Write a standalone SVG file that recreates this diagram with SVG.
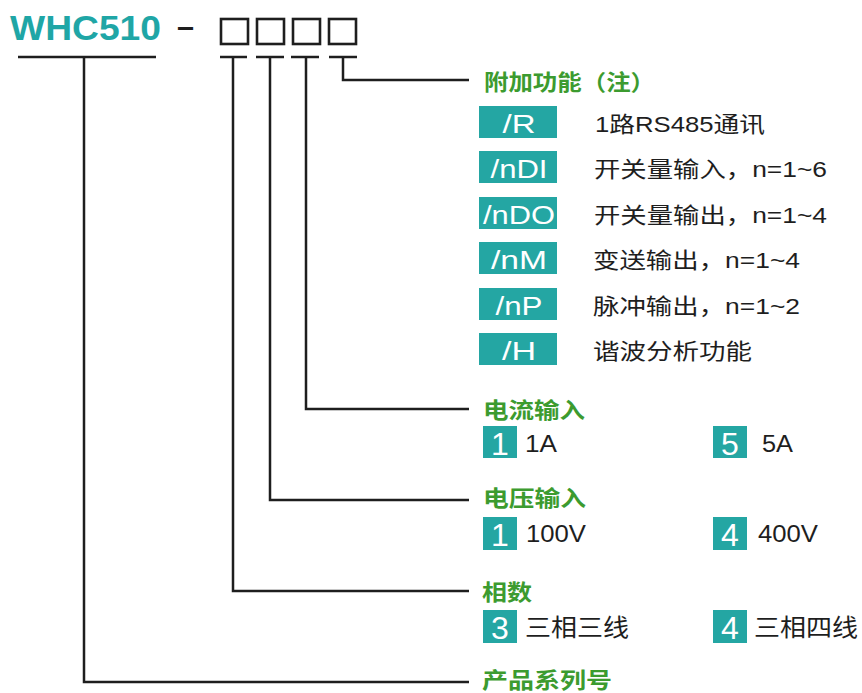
<svg xmlns="http://www.w3.org/2000/svg" width="862" height="693" viewBox="0 0 862 693">
<style>
  .ln{stroke:#1e1e1e;stroke-width:2.5;fill:none}
  .code{stroke:#1e1e1e;stroke-width:2.6;fill:none}
  .hd{font-family:"Liberation Sans","Noto Sans CJK SC",sans-serif;font-weight:bold;font-size:22px;fill:#3c9b2f}
  .tag{fill:#24a6a3}
  .tagt{font-family:"Liberation Sans","Noto Sans CJK SC",sans-serif;font-size:25px;fill:#ffffff;text-anchor:middle}
  .num{font-family:"Liberation Sans","Noto Sans CJK SC",sans-serif;font-size:32px;fill:#ffffff;text-anchor:middle}
  .desc{font-family:"Liberation Sans","Noto Sans CJK SC",sans-serif;font-size:22px;fill:#1e1e1e}
  .opt{font-family:"Liberation Sans","Noto Sans CJK SC",sans-serif;font-size:24px;fill:#1e1e1e}
</style>
<rect width="862" height="693" fill="#ffffff"/>

<g id="title">
  <text x="10" y="40" font-family="Liberation Sans, sans-serif" font-weight="bold" font-size="35" fill="#1fa6a6" textLength="151" lengthAdjust="spacingAndGlyphs">WHC510</text>
  <text x="177" y="37" font-family="Liberation Sans, sans-serif" font-weight="bold" font-size="30" fill="#1e1e1e" textLength="17" lengthAdjust="spacingAndGlyphs">–</text>
  <rect class="code" x="221" y="19" width="27" height="25"/>
  <rect class="code" x="257" y="19" width="27" height="25"/>
  <rect class="code" x="293" y="19" width="27" height="25"/>
  <rect class="code" x="329" y="19" width="27" height="25"/>
</g>

<g id="connectors">
  <line class="ln" x1="18" y1="57" x2="156" y2="57"/>
  <line class="ln" x1="220" y1="57" x2="247" y2="57"/>
  <line class="ln" x1="256" y1="57" x2="284" y2="57"/>
  <line class="ln" x1="291" y1="57" x2="319" y2="57"/>
  <line class="ln" x1="329" y1="57" x2="357" y2="57"/>
  <polyline class="ln" points="84,57 84,682 469,682"/>
  <polyline class="ln" points="233,57 233,591 469,591"/>
  <polyline class="ln" points="270,57 270,500 469,500"/>
  <polyline class="ln" points="306,57 306,409 469,409"/>
  <polyline class="ln" points="343,57 343,80 469,80"/>
</g>

<g id="extra-functions">
  <text class="hd" x="484" y="90" textLength="171" lengthAdjust="spacingAndGlyphs">附加功能（注）</text>
  <rect class="tag" x="479" y="106" width="78" height="32"/>
  <text class="tagt" x="519" y="133" textLength="33" lengthAdjust="spacingAndGlyphs">/R</text>
  <text class="desc" x="595" y="132" textLength="170" lengthAdjust="spacingAndGlyphs">1路RS485通讯</text>
  <rect class="tag" x="479" y="151" width="78" height="32"/>
  <text class="tagt" x="519" y="178" textLength="57" lengthAdjust="spacingAndGlyphs">/nDI</text>
  <text class="desc" x="594" y="177" textLength="233" lengthAdjust="spacingAndGlyphs">开关量输入，n=1~6</text>
  <rect class="tag" x="479" y="197" width="78" height="32"/>
  <text class="tagt" x="519" y="224" textLength="72" lengthAdjust="spacingAndGlyphs">/nDO</text>
  <text class="desc" x="594" y="223" textLength="233" lengthAdjust="spacingAndGlyphs">开关量输出，n=1~4</text>
  <rect class="tag" x="479" y="242" width="78" height="32"/>
  <text class="tagt" x="519" y="269" textLength="56" lengthAdjust="spacingAndGlyphs">/nM</text>
  <text class="desc" x="593" y="268" textLength="207" lengthAdjust="spacingAndGlyphs">变送输出，n=1~4</text>
  <rect class="tag" x="479" y="288" width="78" height="32"/>
  <text class="tagt" x="519" y="315" textLength="47" lengthAdjust="spacingAndGlyphs">/nP</text>
  <text class="desc" x="593" y="314" textLength="207" lengthAdjust="spacingAndGlyphs">脉冲输出，n=1~2</text>
  <rect class="tag" x="479" y="333" width="78" height="32"/>
  <text class="tagt" x="519" y="360" textLength="34" lengthAdjust="spacingAndGlyphs">/H</text>
  <text class="desc" x="593" y="359" textLength="159" lengthAdjust="spacingAndGlyphs">谐波分析功能</text>
</g>

<g id="current-input">
  <text class="hd" x="483" y="418" textLength="102" lengthAdjust="spacingAndGlyphs">电流输入</text>
  <rect class="tag" x="483" y="426" width="34" height="32"/>
  <text class="num" x="500" y="455">1</text>
  <text class="opt" x="525" y="452" textLength="32" lengthAdjust="spacingAndGlyphs">1A</text>
  <rect class="tag" x="713" y="426" width="34" height="32"/>
  <text class="num" x="730" y="455">5</text>
  <text class="opt" x="762" y="452" textLength="31" lengthAdjust="spacingAndGlyphs">5A</text>
</g>

<g id="voltage-input">
  <text class="hd" x="483" y="506" textLength="103" lengthAdjust="spacingAndGlyphs">电压输入</text>
  <rect class="tag" x="483" y="517" width="34" height="33"/>
  <text class="num" x="500" y="546">1</text>
  <text class="opt" x="526" y="542" textLength="60" lengthAdjust="spacingAndGlyphs">100V</text>
  <rect class="tag" x="713" y="517" width="34" height="33"/>
  <text class="num" x="730" y="546">4</text>
  <text class="opt" x="758" y="542" textLength="60" lengthAdjust="spacingAndGlyphs">400V</text>
</g>

<g id="phases">
  <text class="hd" x="482" y="600" textLength="50" lengthAdjust="spacingAndGlyphs">相数</text>
  <rect class="tag" x="483" y="610" width="34" height="33"/>
  <text class="num" x="500" y="639">3</text>
  <text class="opt" x="525" y="636" textLength="104" lengthAdjust="spacingAndGlyphs">三相三线</text>
  <rect class="tag" x="713" y="610" width="34" height="33"/>
  <text class="num" x="730" y="639">4</text>
  <text class="opt" x="754" y="636" textLength="104" lengthAdjust="spacingAndGlyphs">三相四线</text>
</g>

<g id="series">
  <text class="hd" x="482" y="688" textLength="130" lengthAdjust="spacingAndGlyphs">产品系列号</text>
</g>
</svg>
